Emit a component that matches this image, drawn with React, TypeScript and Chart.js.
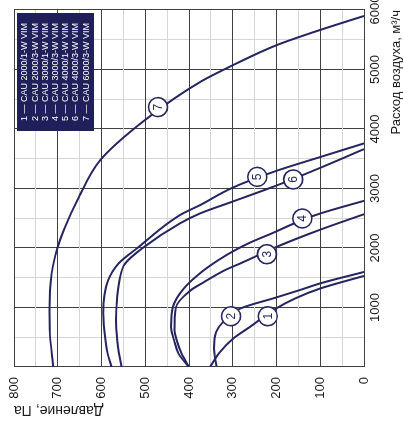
import React, { useEffect, useRef } from 'react';
import { Chart, registerables } from 'chart.js';

Chart.register(...registerables);

// ---- data ----
const seriesNumbers = ['1', '2', '3', '4', '5', '6', '7'];
const seriesNames = [
  'CAU 2000/1-W VIM',
  'CAU 2000/3-W VIM',
  'CAU 3000/1-W VIM',
  'CAU 3000/3-W VIM',
  'CAU 4000/1-W VIM',
  'CAU 4000/3-W VIM',
  'CAU 6000/3-W VIM',
];

const flow1 = [0, 252, 477, 673, 982, 1150, 1318, 1531];
const pressure1 = [352, 329, 299, 261, 201, 158, 101, 0];

const flow2 = [0, 309, 589, 757, 982, 1170, 1290, 1410, 1598];
const pressure2 = [337, 343, 338, 322, 283, 200, 148, 98, 0];

const flow3 = [0, 225, 449, 617, 1000, 1290, 1430, 1627, 1766, 2043, 2308, 2568];
const pressure3 = [400, 417, 428, 433, 430, 396, 365, 318, 275, 192, 100, 0];

const flow4 = [0, 225, 449, 673, 1000, 1318, 1598, 1795, 1963, 2103, 2244, 2412, 2580, 2793];
const pressure4 = [400, 424, 434, 441, 437, 412, 371, 333, 295, 257, 211, 160, 100, 0];

const flow5 = [0, 225, 449, 903, 1458, 1739, 2000, 2552, 2720, 3018, 3297, 3529, 3758];
const pressure5 = [577, 586, 591, 596, 585, 561, 518, 421, 375, 299, 200, 100, 0];

const flow6 = [0, 225, 449, 785, 1000, 1458, 1739, 2000, 2412, 2580, 2781, 3050, 3400, 3662];
const pressure6 = [554, 560, 564, 567, 566, 559, 546, 506, 421, 375, 300, 200, 83, 0];

const flow7 = [0, 561, 954, 1571, 1991, 2355, 2804, 3477, 4150, 4789, 5075, 5411, 5663, 5900];
const pressure7 = [710, 718, 719, 714, 701, 683, 655, 603, 501, 375, 299, 199, 101, 0];

// circled curve numbers (airflow, pressure)
const labelFlow = [853, 853, 1896, 2496, 3196, 3152, 4368];
const labelPressure = [220, 304, 222, 141, 244, 162, 471];

const flowTickLabels = [1000, 2000, 3000, 4000, 5000, 6000];
const pressureTickLabels = [0, 100, 200, 300, 400, 500, 600, 700, 800];

const xTitle = 'Расход воздуха, м³/ч';
const yTitle = 'Давление, Па';

// ---- styles ----
const NAVY = '#25255f';
const BOX = '#1f1f5a';
const MAJOR = '#404040';
const MINOR = '#d6d6d6';
const FONT = '"Liberation Sans", Arial, Helvetica, sans-serif';

const flows = [flow1, flow2, flow3, flow4, flow5, flow6, flow7];
const pressures = [pressure1, pressure2, pressure3, pressure4, pressure5, pressure6, pressure7];

const overlayPlugin = {
  id: 'overlay',
  afterDatasetsDraw(chart: any) {
    const { ctx, chartArea, scales } = chart;
    ctx.save();
    // curve number markers
    for (let i = 0; i < seriesNumbers.length; i++) {
      const x = scales.x.getPixelForValue(labelFlow[i]);
      const y = scales.y.getPixelForValue(labelPressure[i]);
      ctx.beginPath();
      ctx.arc(x, y, 9.5, 0, Math.PI * 2);
      ctx.fillStyle = '#ffffff';
      ctx.fill();
      ctx.lineWidth = 1.6;
      ctx.strokeStyle = NAVY;
      ctx.stroke();
      ctx.fillStyle = NAVY;
      ctx.font = `12px ${FONT}`;
      ctx.textAlign = 'center';
      ctx.textBaseline = 'middle';
      ctx.fillText(seriesNumbers[i], x, y + 0.5);
    }
    // legend box
    const bw = 118;
    const bh = 77;
    const bx = chartArea.right - 3 - bw;
    const by = chartArea.top + 3;
    ctx.fillStyle = BOX;
    ctx.fillRect(bx, by, bw, bh);
    ctx.fillStyle = '#ffffff';
    ctx.font = `9px ${FONT}`;
    ctx.textAlign = 'left';
    ctx.textBaseline = 'middle';
    for (let i = 0; i < seriesNames.length; i++) {
      ctx.fillText(`${seriesNumbers[i]} — ${seriesNames[i]}`, bx + 10, by + 8 + i * 10.17, 98);
    }
    ctx.restore();
  },
};

export default function App() {
  const ref = useRef<HTMLCanvasElement>(null);

  useEffect(() => {
    if (!ref.current) return;
    const datasets = flows.map((f, i) => ({
      label: seriesNames[i],
      data: f.map((q, j) => ({ x: q, y: pressures[i][j] })),
      showLine: true,
      borderColor: NAVY,
      backgroundColor: NAVY,
      borderWidth: 2,
      pointRadius: 0,
      cubicInterpolationMode: 'monotone' as const,
      fill: false,
    }));

    const chart = new Chart(ref.current, {
      type: 'scatter',
      data: { datasets },
      options: {
        animation: false,
        responsive: false,
        maintainAspectRatio: false,
        layout: { padding: { top: 14, right: 23, bottom: 0, left: 0 } },
        plugins: {
          legend: { display: false },
          tooltip: { enabled: false },
        },
        scales: {
          x: {
            type: 'linear',
            position: 'bottom',
            min: 0,
            max: 6000,
            ticks: {
              stepSize: 500,
              autoSkip: false,
              maxRotation: 0,
              padding: 4,
              color: '#1a1a1a',
              font: { size: 13, family: FONT },
              callback: (v: any) => (flowTickLabels.includes(Number(v)) ? String(v) : ''),
            },
            grid: {
              color: (c: any) => (c.tick && c.tick.value % 1000 === 0 ? MAJOR : MINOR),
              lineWidth: 1,
              drawTicks: false,
            },
            border: { display: true, color: MAJOR, width: 1 },
            title: {
              display: true,
              text: xTitle,
              align: 'end',
              color: '#1a1a1a',
              font: { size: 13, family: FONT, lineHeight: 1 },
              padding: { top: 0, bottom: 0 },
            },
            afterFit: (scale: any) => {
              scale.height = 39;
              scale.paddingLeft = 0;
              scale.paddingRight = 0;
            },
          },
          y: {
            type: 'linear',
            min: 0,
            max: 800,
            ticks: {
              stepSize: 50,
              autoSkip: false,
              padding: 10,
              color: '#1a1a1a',
              font: { size: 13, family: FONT },
              callback: (v: any) => (pressureTickLabels.includes(Number(v)) ? String(v) : ''),
            },
            grid: {
              color: (c: any) => (c.tick && c.tick.value % 100 === 0 ? MAJOR : MINOR),
              lineWidth: 1,
              drawTicks: false,
            },
            border: { display: true, color: MAJOR, width: 1 },
            title: {
              display: true,
              text: yTitle,
              align: 'end',
              color: '#1a1a1a',
              font: { size: 14, family: FONT },
              padding: { top: 9, bottom: 0 },
            },
            afterFit: (scale: any) => {
              scale.width = 60;
              scale.paddingTop = 0;
              scale.paddingBottom = 0;
            },
          },
        },
      } as any,
      plugins: [overlayPlugin],
    });
    return () => chart.destroy();
  }, []);

  return (
    <div
      style={{
        position: 'fixed',
        left: 0,
        top: 0,
        width: 403,
        height: 427,
        overflow: 'hidden',
        background: '#ffffff',
      }}
    >
      <div
        style={{
          position: 'absolute',
          left: 0,
          top: 0,
          width: 440,
          height: 403,
          transformOrigin: '0 0',
          transform: 'translate(0px, 427px) rotate(-90deg)',
        }}
      >
        <canvas ref={ref} width={440} height={403} style={{ display: 'block', width: 440, height: 403 }} />
      </div>
    </div>
  );
}
